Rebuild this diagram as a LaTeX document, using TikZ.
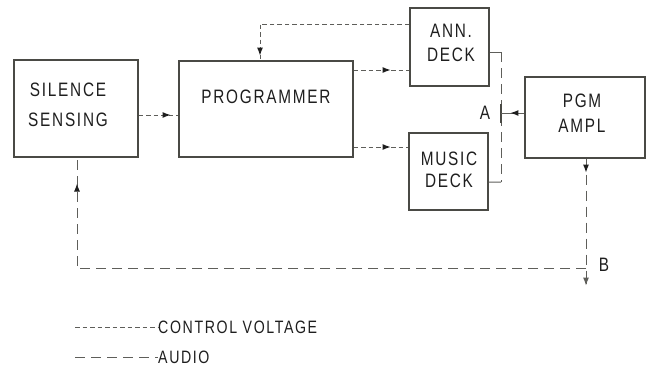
\documentclass[tikz,border=0pt]{standalone}
\usepackage{fontspec}
\setmainfont{Liberation Sans}[FakeStretch=0.79,LetterSpace=9]
\usetikzlibrary{arrows.meta,decorations.markings,calc}
\definecolor{ink}{HTML}{1E1E1E}
\definecolor{wire}{HTML}{5E5E5A}
\definecolor{boxline}{HTML}{4A4A45}
\tikzset{
  blk/.style={draw=boxline,line width=1.1bp,rectangle,inner sep=0pt},
  txt/.style={text=ink,font=\fontsize{19.5}{25}\selectfont,align=center,inner sep=0pt},
  ctrl/.style={draw=wire,line width=1bp,dash pattern=on 4.5bp off 3bp},
  aud/.style={draw=wire,line width=1bp,dash pattern=on 10bp off 6bp},
  solidw/.style={draw=wire,line width=1bp},
  tipat/.style={postaction={decorate},decoration={markings,
     mark=at position #1 with {\arrow[ink,solid]{Latex[length=8bp,width=6bp]}}}},
}
\begin{document}
\begin{tikzpicture}[x=1bp,y=-1bp]
\useasboundingbox (0,0) rectangle (653,371);
% boxes
\node[blk,minimum width=124bp,minimum height=97bp] (sil) at (76,108.5) {};
\node[blk,minimum width=174bp,minimum height=96bp] (prog) at (266,109) {};
\node[blk,minimum width=79bp,minimum height=78bp] (ann) at (449.5,47) {};
\node[blk,minimum width=79bp,minimum height=77bp] (mus) at (448.5,171.5) {};
\node[blk,minimum width=120bp,minimum height=81bp] (pgm) at (585,117.5) {};
% texts
\node[txt,font=\fontsize{19.5}{30}\selectfont] (silt) at (68,105) {SILENCE\\SENSING};
\node[txt] (progt) at (266,97) {PROGRAMMER};
\node[txt,font=\fontsize{19.5}{24}\selectfont] (annt) at (451,43) {ANN.\\DECK};
\node[txt,font=\fontsize{19.5}{22}\selectfont] (must) at (449,170) {MUSIC\\DECK};
\node[txt] (pgmt) at (582,113.5) {PGM\\AMPL};
% control voltage connectors
\coordinate (s1) at ($(sil.east)+(0,6.5)$);
\draw[ctrl,tipat=32bp] (s1) -- (s1 -| prog.west);
\coordinate (p1) at ($(prog.east)+(0,-39)$);
\draw[ctrl,tipat=37bp] (p1) -- (p1 -| ann.west);
\coordinate (p2) at ($(prog.east)+(0,38)$);
\draw[ctrl,tipat=37bp] (p2) -- (p2 -| mus.west);
\coordinate (a1) at ($(ann.west)+(0,-23)$);
\coordinate (pt) at ($(prog.north)+(-6,0)$);
\draw[ctrl,tipat=181bp] (a1) -| (pt);
% audio bus
\coordinate (ao) at ($(ann.east)+(0,5)$);
\coordinate (mo) at ($(mus.east)+(0,10.5)$);
\coordinate (busT) at (501,52);
\coordinate (busB) at (501,182);
\draw[solidw] (ao) -- (busT);
\draw[solidw] (mo) -- (busB);
\draw[aud] (busT) -- (busB);
\coordinate (A) at (501,113);
\draw[draw=boxline,line width=1.2bp] ($(A)+(0,-9.5)$) -- ($(A)+(0,9.5)$);
\node[txt] (Alab) at (485,113) {A};
\coordinate (pg1) at ($(pgm.west)+(0,-4.5)$);
\draw[solidw,tipat=14bp] (pg1) -- (A);
% PGM output
\coordinate (pgB) at ($(pgm.south)+(1,0)$);
\coordinate (Bj) at ($(pgB)+(0,110)$);
\coordinate (Bend) at ($(pgB)+(0,127)$);
\draw[aud,tipat=14bp] (pgB) -- (Bend);
\draw[draw=wire,line width=1bp,-{Latex[length=8bp,width=6bp]}] ($(Bend)+(0,-2)$) -- (Bend);
\node[txt] (Blab) at (604,265) {B};
\coordinate (sb) at ($(sil.south)+(1,0)$);
\draw[aud,tipat=594bp] (Bj) -| (sb);
% legend
\node[txt,anchor=west,font=\fontsize{18}{22}\selectfont] (lc) at (158,327) {CONTROL VOLTAGE};
\node[txt,anchor=west,font=\fontsize{18}{22}\selectfont] (la) at (158,357) {AUDIO};
\coordinate (lcs) at (75,327);
\coordinate (las) at (75,357);
\draw[ctrl] (lcs) -- (lc.west);
\draw[aud] (las) -- (la.west);
\end{tikzpicture}
\end{document}
